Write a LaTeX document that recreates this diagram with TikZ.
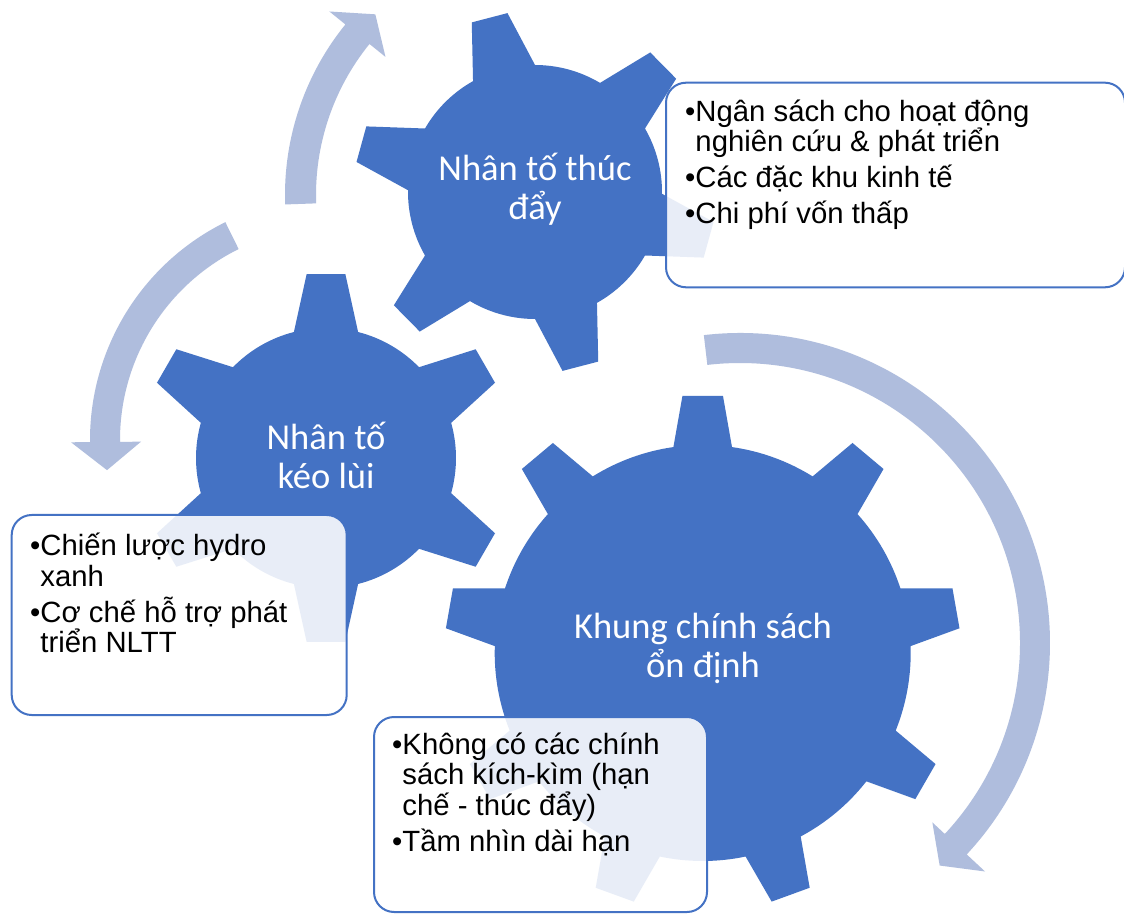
\documentclass[tikz,border=0pt]{standalone}
\usepackage{fontspec}
\setmainfont{Liberation Sans}
\newfontfamily\calfont{Carlito}
\definecolor{gearblue}{HTML}{4472C4}
\definecolor{arrowblue}{RGB}{175,189,221}
\tikzset{
  gearfill/.style={fill=gearblue},
  arrowfill/.style={fill=arrowblue},
  infobox/.style={draw=gearblue, line width=2pt, fill=white, fill opacity=0.88, rounded corners=20pt},
  geartext/.style={text=white, font=\calfont\fontsize{36.5}{39}\selectfont, align=center, anchor=base, inner sep=0pt},
  boxtext/.style={text=black, font=\fontsize{29.3}{30.5}\selectfont, align=left, anchor=base west, inner sep=0pt},
}
% #1 centre, #2 teeth, #3 first tooth angle, #4 body radius, #5 tip radius, #6 base half angle, #7 tip half angle
\newcommand\gearshape[7]{%
  \fill[gearfill, shift={#1}] ({#3-360/#2+#6}:#4)
    \foreach \k in {1,...,#2}{
      arc[start angle={#3+(\k-2)*360/#2+#6}, end angle={#3+(\k-1)*360/#2-#6}, radius=#4]
      -- ({#3+(\k-1)*360/#2-#7}:#5) -- ({#3+(\k-1)*360/#2+#7}:#5)
      -- ({#3+(\k-1)*360/#2+#6}:#4)
    } -- cycle;}
% #1 centre, #2 inner r, #3 outer r, #4 tail angle, #5 head base angle, #6 tip angle, #7 tip r, #8 inner barb r, #9 outer barb r
\newcommand\circarrow[9]{%
  \fill[arrowfill, shift={#1}] (#4:#3) arc[start angle=#4, end angle=#5, radius=#3]
    -- (#5:#9) -- (#6:#7) -- (#5:#8) -- (#5:#2)
    arc[start angle=#5, end angle=#4, radius=#2] -- cycle;}
\begin{document}
\begin{tikzpicture}[x=1pt, y=1pt]
\useasboundingbox (0,0) rectangle (1124,914);
\fill[white] (0,0) rectangle (1124,914);
% circular arrows
\circarrow{(556,719)}{240pt}{271pt}{182}{141}{135}{255.5pt}{219.4pt}{291.6pt}
\circarrow{(333,474)}{213pt}{243pt}{116.3}{180.5}{187.6}{228pt}{192pt}{262pt}
\circarrow{(740,271)}{280pt}{310pt}{96.7}{-43}{-48.1}{299pt}{263pt}{335pt}
% gears
\gearshape{(535,722)}{6}{104.6}{127pt}{181pt}{14.6}{5.85}
\gearshape{(326,456)}{6}{90}{130pt}{185pt}{14.3}{6}
\gearshape{(702.7,261)}{9}{90}{208pt}{258pt}{8.1}{4.5}
% gear labels (anchored at the baseline of the last line)
\node[geartext] (g1text) at (535,694) {Nhân tố thúc\\đẩy};
\node[geartext] (g2text) at (326,425.7) {Nhân tố\\kéo lùi};
\node[geartext] (g3text) at (703,236.5) {Khung chính sách\\ổn định};
% boxes
\path[infobox] (666,626.7) rectangle (1125,831.3);
\path[infobox] (11.7,199) rectangle (346.7,399);
\path[infobox] (374,2) rectangle (707,197);
\node[boxtext] (b1text) at (685,690) {•Ngân sách cho hoạt động\\\hphantom{•}nghiên cứu \& phát triển\\[5.5pt]•Các đặc khu kinh tế\\[5.5pt]•Chi phí vốn thấp};
\node[boxtext] (b2text) at (30,261.3) {•Chiến lược hydro\\\hphantom{•}xanh\\[5.5pt]•Cơ chế hỗ trợ phát\\\hphantom{•}triển NLTT};
\node[boxtext] (b3text) at (392,62.6) {•Không có các chính\\\hphantom{•}sách kích-kìm (hạn\\\hphantom{•}chế - thúc đẩy)\\[5.5pt]•Tầm nhìn dài hạn};
\end{tikzpicture}
\end{document}
